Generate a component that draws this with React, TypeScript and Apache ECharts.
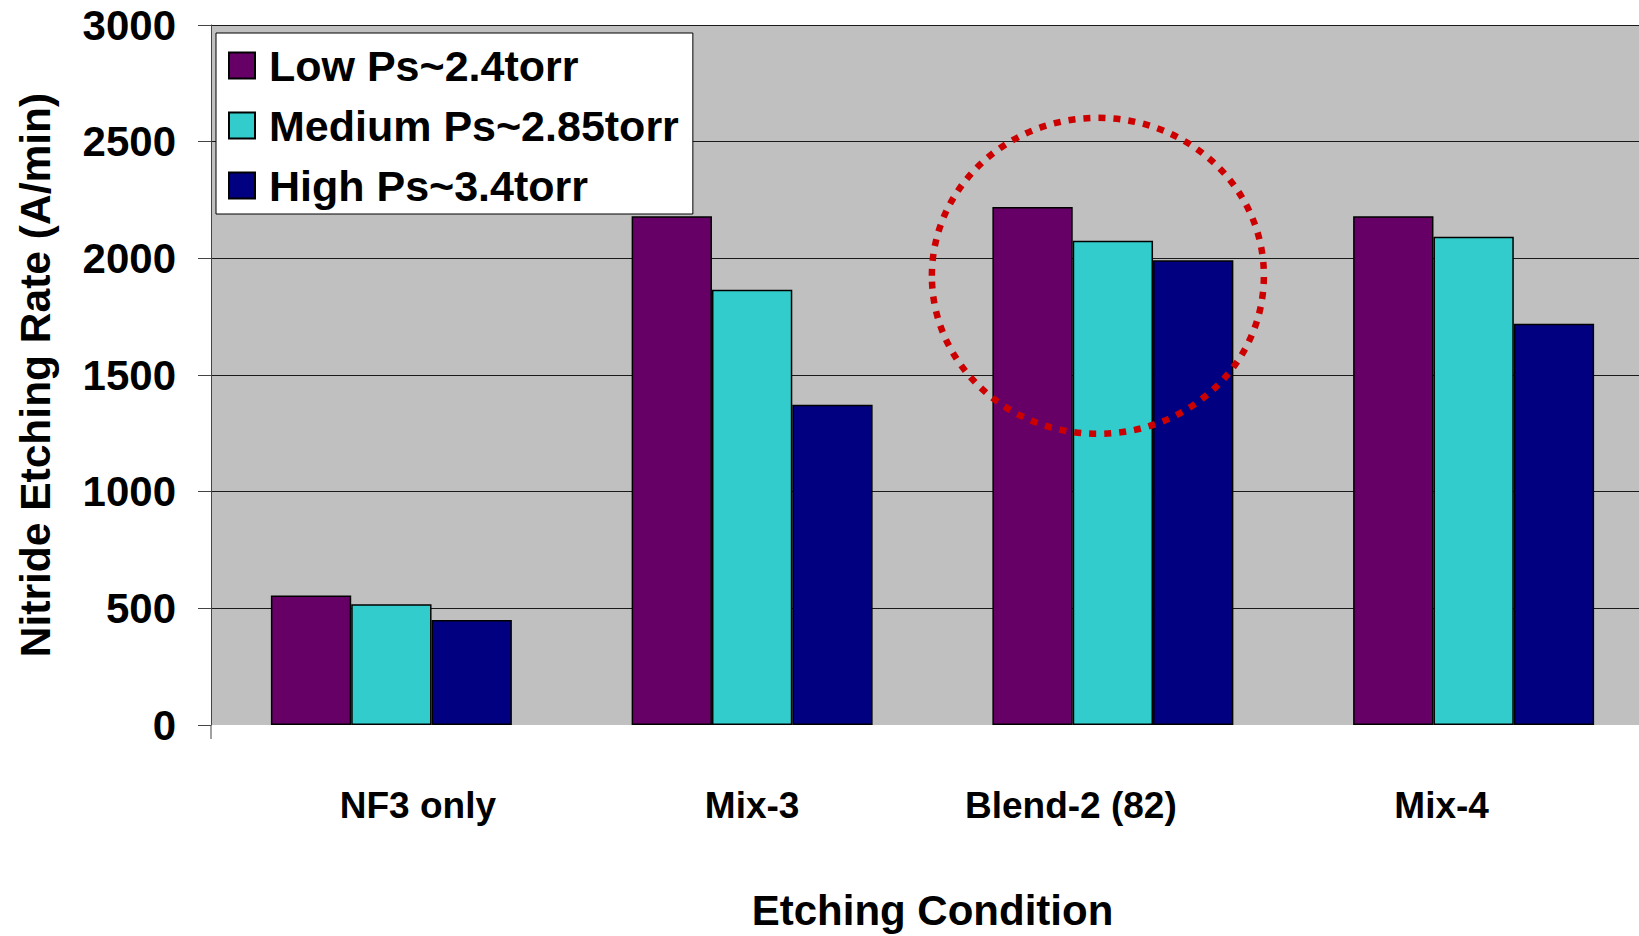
import React, { useEffect, useRef } from "react";
import * as echarts from "echarts";

const categories = ["NF3 only", "Mix-3", "Blend-2 (82)", "Mix-4"];
const seriesNames = ["Low Ps~2.4torr", "Medium Ps~2.85torr", "High Ps~3.4torr"];
const lowValues = [555, 2180, 2220, 2180];
const mediumValues = [518, 1865, 2075, 2093];
const highValues = [450, 1373, 1992, 1720];
const seriesColors = ["#660066", "#33CCCC", "#000080"];
const labelPadding = [
  [0, 0, 0, 53],
  [0, 0, 0, 0],
  [0, 84, 0, 0],
  [0, 64, 0, 0],
];
const FONT = "'Liberation Sans', Arial, Helvetica, sans-serif";

export default function App() {
  const ref = useRef<HTMLDivElement>(null);
  useEffect(() => {
    document.body.style.margin = "0";
    document.body.style.overflow = "hidden";
    if (!ref.current) return;
    const chart = echarts.init(ref.current, undefined, { renderer: "svg" });
    const rich: Record<string, any> = {};
    labelPadding.forEach((p, i) => {
      rich["p" + i] = {
        padding: p,
        fontSize: 37,
        fontWeight: "bold",
        fontFamily: FONT,
        color: "#000",
      };
    });
    const valuesList = [lowValues, mediumValues, highValues];
    chart.setOption({
      animation: false,
      backgroundColor: "#fff",
      textStyle: { fontFamily: FONT },
      grid: {
        left: 211,
        top: 25,
        width: 1443,
        bottom: 211,
        show: true,
        backgroundColor: "#C0C0C0",
        borderWidth: 0,
        containLabel: false,
        outerBoundsMode: "none",
      },
      legend: {
        orient: "vertical",
        left: 216,
        top: 33,
        align: "left",
        itemWidth: 26,
        itemHeight: 26,
        itemGap: 17,
        padding: [11, 14, 7, 12],
        backgroundColor: "#fff",
        borderColor: "#000",
        borderWidth: 1,
        borderRadius: 0,
        icon: "rect",
        textStyle: {
          fontSize: 43,
          fontWeight: "bold",
          fontFamily: FONT,
          color: "#000",
          padding: [0, 0, 0, 9],
          lineHeight: 43,
        },
        data: seriesNames,
      },
      xAxis: {
        type: "category",
        data: categories,
        name: "Etching Condition",
        nameLocation: "middle",
        nameGap: 164,
        nameTextStyle: {
          fontSize: 42,
          fontWeight: "bold",
          fontFamily: FONT,
          color: "#000",
        },
        axisLine: { show: false },
        axisTick: { show: false },
        axisLabel: {
          margin: 62,
          interval: 0,
          formatter: (v: string, i: number) => `{p${i}|${v}}`,
          rich,
        },
      },
      yAxis: {
        type: "value",
        min: 0,
        max: 3000,
        interval: 500,
        name: "Nitride Etching Rate (A/min)",
        nameLocation: "middle",
        nameGap: 154,
        nameTextStyle: {
          fontSize: 42.5,
          fontWeight: "bold",
          fontFamily: FONT,
          color: "#000",
        },
        axisLine: { show: true, lineStyle: { color: "#444", width: 1 } },
        axisTick: { show: true, length: 13, lineStyle: { color: "#444", width: 1 } },
        axisLabel: {
          margin: 35,
          fontSize: 42,
          fontWeight: "bold",
          fontFamily: FONT,
          color: "#000",
          formatter: (v: number) => String(v),
        },
        splitLine: {
          show: true,
          showMinLine: false,
          lineStyle: { color: "#1a1a1a", width: 1 },
        },
      },
      series: seriesNames.map((name, i) => ({
        name,
        type: "bar",
        data: valuesList[i],
        barGap: "0%",
        barCategoryGap: "33.2%",
        itemStyle: {
          color: seriesColors[i],
          borderColor: "#000",
          borderWidth: 1.5,
        },
      })),
    });

    const center = chart.convertToPixel({ xAxisIndex: 0, yAxisIndex: 0 }, [
      "Blend-2 (82)",
      1925,
    ]) as number[];
    const zero = chart.convertToPixel({ xAxisIndex: 0, yAxisIndex: 0 }, [
      "NF3 only",
      0,
    ]) as number[];
    chart.setOption({
      graphic: [
        {
          type: "ellipse",
          shape: { cx: center[0] - 15, cy: center[1], rx: 166, ry: 158 },
          style: {
            fill: "none",
            stroke: "#CC0000",
            lineWidth: 6.5,
            lineDash: [7, 8],
          },
          silent: true,
          z: 100,
        },
        {
          type: "line",
          shape: { x1: 211, y1: zero[1], x2: 211, y2: zero[1] + 14 },
          style: { stroke: "#444", lineWidth: 1 },
          silent: true,
        },
      ],
    });
    return () => chart.dispose();
  }, []);
  return <div ref={ref} style={{ width: 1639, height: 936 }} />;
}
